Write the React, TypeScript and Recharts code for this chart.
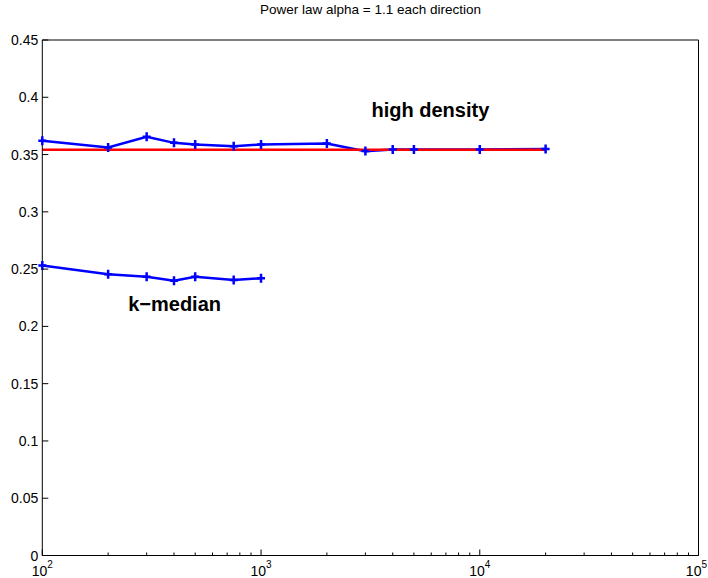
import React from 'react';
import { LineChart, Line, XAxis, YAxis, ReferenceDot } from 'recharts';

// values
const highDensityX = [100, 200, 300, 400, 500, 750, 1000, 2000, 3000, 4000, 5000, 10000, 20000];
const highDensityY = [0.362, 0.3562, 0.3655, 0.3602, 0.3588, 0.3573, 0.3588, 0.3597, 0.353, 0.3545, 0.3545, 0.3545, 0.3548];
const kMedianX = [100, 200, 300, 400, 500, 750, 1000];
const kMedianY = [0.2532, 0.2456, 0.2433, 0.2398, 0.2433, 0.2404, 0.2421];
const referenceX = [100, 20000];
const referenceY = [0.3542, 0.3542];

const majorTicks = [100, 1000, 10000, 100000];
const majorExponents = ['2', '3', '4', '5'];
const minorTicks = [
  200, 300, 400, 500, 600, 700, 800, 900,
  2000, 3000, 4000, 5000, 6000, 7000, 8000, 9000,
  20000, 30000, 40000, 50000, 60000, 70000, 80000, 90000,
];
const xTicks = [...majorTicks, ...minorTicks].sort((a, b) => a - b);
const yTicks = [0, 0.05, 0.1, 0.15, 0.2, 0.25, 0.3, 0.35, 0.4, 0.45];

const TITLE = 'Power law alpha = 1.1 each direction';
const FONT = '"Liberation Sans", Arial, Helvetica, sans-serif';

const toPoints = (xs: number[], ys: number[]) => xs.map((x, i) => ({ x, y: ys[i] }));
const highDensity = toPoints(highDensityX, highDensityY);
const kMedian = toPoints(kMedianX, kMedianY);
const reference = toPoints(referenceX, referenceY);

const PlusDot = (props: any) => {
  const { cx, cy, index } = props;
  if (cx == null || cy == null) return <g key={index} />;
  return (
    <path
      key={index}
      d={`M${cx - 4},${cy}H${cx + 4}M${cx},${cy - 4.5}V${cy + 4.5}`}
      stroke="#0000ff"
      strokeWidth={2.5}
      fill="none"
    />
  );
};

const BottomTick = (props: any) => {
  const { x, y, payload } = props;
  const idx = majorTicks.indexOf(payload.value);
  const major = idx >= 0;
  // keep the last label inside the picture
  const last = idx === majorTicks.length - 1;
  return (
    <g>
      <line x1={x} y1={y} x2={x} y2={y - (major ? 6 : 3)} stroke="#000" strokeWidth={1} />
      {major && (
        <text
          x={last ? 707 : x}
          y={y + 20.5}
          textAnchor={last ? 'end' : 'middle'}
          fontSize={14}
          fontFamily={FONT}
          fill="#000"
        >
          <tspan>10</tspan>
          <tspan dy={-8} fontSize={10}>{majorExponents[idx]}</tspan>
        </text>
      )}
    </g>
  );
};

const TopTick = (props: any) => {
  const { x, y, payload } = props;
  const major = majorTicks.includes(payload.value);
  return <line x1={x} y1={y} x2={x} y2={y + (major ? 6 : 3)} stroke="#000" strokeWidth={1} />;
};

const LeftTick = (props: any) => {
  const { x, y, payload } = props;
  return (
    <g>
      <line x1={x} y1={y} x2={x + 6} y2={y} stroke="#000" strokeWidth={1} />
      <text x={x - 4} y={y} textAnchor="end" dominantBaseline="central" fontSize={14} fontFamily={FONT} fill="#000">
        {String(payload.value)}
      </text>
    </g>
  );
};

const RightTick = (props: any) => {
  const { x, y } = props;
  return <line x1={x} y1={y} x2={x - 6} y2={y} stroke="#000" strokeWidth={1} />;
};

const Annotation = (text: string) => (props: any) => (
  <text x={props.cx} y={props.cy} fontSize={20} fontWeight="bold" fontFamily={FONT} fill="#000">
    {text}
  </text>
);

export default function App() {
  return (
    <div style={{ position: 'absolute', left: 0, top: 0, width: 708, height: 578, background: '#fff' }}>
      <div
        style={{
          position: 'absolute',
          left: 0,
          top: 2,
          width: 741,
          textAlign: 'center',
          fontFamily: FONT,
          fontSize: 13.5,
          lineHeight: '16px',
          color: '#000',
        }}
      >
        {TITLE}
      </div>
      <LineChart width={708} height={578} margin={{ top: 30, right: 0, bottom: 2.5, left: 2.3 }}>
        <XAxis
          xAxisId={0}
          dataKey="x"
          type="number"
          scale="log"
          domain={[100, 100000]}
          ticks={xTicks}
          interval={0}
          height={20}
          tickSize={0}
          tickMargin={0}
          tickLine={false}
          tick={<BottomTick />}
          axisLine={{ stroke: '#000' }}
        />
        <XAxis
          xAxisId="top"
          orientation="top"
          dataKey="x"
          type="number"
          scale="log"
          domain={[100, 100000]}
          ticks={xTicks}
          interval={0}
          height={10}
          tickSize={0}
          tickMargin={0}
          tickLine={false}
          tick={<TopTick />}
          axisLine={{ stroke: '#000' }}
        />
        <YAxis
          yAxisId={0}
          type="number"
          domain={[0, 0.45]}
          ticks={yTicks}
          interval={0}
          width={40}
          tickSize={0}
          tickMargin={0}
          tickLine={false}
          tick={<LeftTick />}
          axisLine={{ stroke: '#000' }}
        />
        <YAxis
          yAxisId="right"
          orientation="right"
          type="number"
          domain={[0, 0.45]}
          ticks={yTicks}
          interval={0}
          width={9.5}
          tickSize={0}
          tickMargin={0}
          tickLine={false}
          tick={<RightTick />}
          axisLine={{ stroke: '#000' }}
        />
        <Line
          data={highDensity}
          dataKey="y"
          xAxisId={0}
          yAxisId={0}
          stroke="#0000ff"
          strokeWidth={2.5}
          dot={PlusDot}
          activeDot={false}
          isAnimationActive={false}
        />
        <Line
          data={kMedian}
          dataKey="y"
          xAxisId={0}
          yAxisId={0}
          stroke="#0000ff"
          strokeWidth={2.5}
          dot={PlusDot}
          activeDot={false}
          isAnimationActive={false}
        />
        <Line
          data={reference}
          dataKey="y"
          xAxisId={0}
          yAxisId={0}
          stroke="#ff0000"
          strokeWidth={2.5}
          dot={false}
          activeDot={false}
          isAnimationActive={false}
        />
        <ReferenceDot x={3200} y={0.3825} xAxisId={0} yAxisId={0} r={0} shape={Annotation('high density')} />
        <ReferenceDot x={247} y={0.2134} xAxisId={0} yAxisId={0} r={0} shape={Annotation('k\u2212median')} />
      </LineChart>
    </div>
  );
}
